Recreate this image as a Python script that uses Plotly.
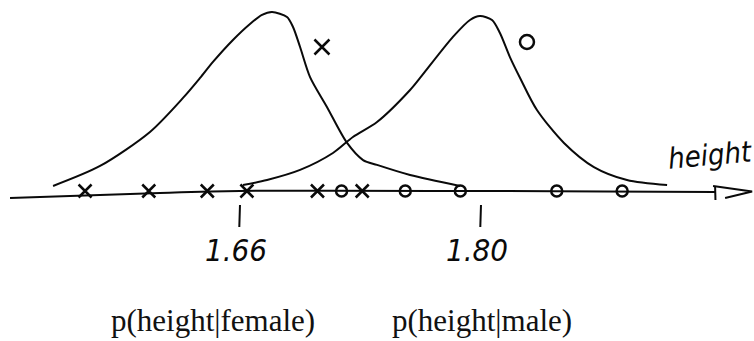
import plotly.graph_objects as go

# Sketch of two class-conditional height densities with observed samples.

# Density curve of height for females (height in m, relative density)
female_curve_h = [1.5514, 1.5787, 1.6077, 1.6269, 1.6368, 1.6443, 1.6559, 1.6658,
                  1.6728, 1.6786, 1.6873, 1.6908, 1.6949, 1.7007, 1.7105, 1.7222,
                  1.7315, 1.7396, 1.7588, 1.7878]
female_curve_p = [0.028, 0.139, 0.328, 0.517, 0.628, 0.717, 0.839, 0.928,
                  0.978, 0.994, 0.967, 0.911, 0.800, 0.633, 0.467, 0.267,
                  0.172, 0.145, 0.089, 0.028]

# Density curve of height for males
male_curve_h = [1.6617, 1.6757, 1.6949, 1.7140, 1.7256, 1.7396, 1.7588, 1.7646,
                1.7837, 1.7936, 1.7994, 1.8064, 1.8110, 1.8168, 1.8227, 1.8325,
                1.8482, 1.8656, 1.8848, 1.9081]
male_curve_p = [0.033, 0.061, 0.117, 0.211, 0.300, 0.383, 0.561, 0.628,
                0.856, 0.950, 0.972, 0.950, 0.878, 0.744, 0.628, 0.450,
                0.267, 0.133, 0.061, 0.033]

# Observed samples on the height axis
female_heights = [1.570, 1.607, 1.641, 1.664, 1.705, 1.731]
male_heights = [1.719, 1.756, 1.788, 1.844, 1.882]

# Tick marks on the height axis
tick_values = [1.66, 1.80]
tick_labels = ["1.66", "1.80"]

# Class names written under each curve
class_labels = ["p(height|female)", "p(height|male)"]
class_label_x = [1.6443, 1.8006]

X_RANGE = [1.52058, 1.95859]
Y_RANGE = [-0.8333, 1.0611]

INK = "#0a0a0a"
HAND = "DejaVu Sans Condensed, DejaVu Sans, sans-serif"

fig = go.Figure()

# density curves
for hx, py in ((female_curve_h, female_curve_p), (male_curve_h, male_curve_p)):
    fig.add_trace(go.Scatter(x=hx, y=py, mode="lines",
                             line=dict(color=INK, width=2, shape="spline", smoothing=0.8),
                             hoverinfo="skip"))

# height axis drawn by hand: slight droop at the left end
axis_h = [1.5264, 1.6135, 1.6600, 1.9360]
axis_p = [-0.039, -0.011, 0.0, -0.006]
fig.add_trace(go.Scatter(x=axis_h, y=axis_p, mode="lines",
                         line=dict(color=INK, width=2, shape="spline"),
                         hoverinfo="skip"))
# open arrowhead at the right end of the axis
fig.add_trace(go.Scatter(x=[1.9348, 1.9575, 1.9418], y=[0.028, -0.003, -0.039],
                         mode="lines", line=dict(color=INK, width=2),
                         hoverinfo="skip"))
# small stroke where the label's descender meets the axis
fig.add_trace(go.Scatter(x=[1.9360, 1.9362], y=[0.022, -0.050], mode="lines",
                         line=dict(color=INK, width=2), hoverinfo="skip"))

# samples
fig.add_trace(go.Scatter(x=female_heights, y=[0] * len(female_heights), mode="markers",
                         marker=dict(symbol="x-thin-open", size=13, color=INK,
                                     line=dict(color=INK, width=2.5)),
                         hoverinfo="skip"))
fig.add_trace(go.Scatter(x=male_heights, y=[0] * len(male_heights), mode="markers",
                         marker=dict(symbol="circle-open", size=11, color=INK,
                                     line=dict(color=INK, width=2.5)),
                         hoverinfo="skip"))

# class symbols beside each curve
fig.add_trace(go.Scatter(x=[1.7076], y=[0.800], mode="markers",
                         marker=dict(symbol="x-thin-open", size=15, color=INK,
                                     line=dict(color=INK, width=2.5)),
                         hoverinfo="skip"))
fig.add_trace(go.Scatter(x=[1.8267], y=[0.828], mode="markers",
                         marker=dict(symbol="circle-open", size=14, color=INK,
                                     line=dict(color=INK, width=2.5)),
                         hoverinfo="skip"))

shapes = []
annotations = []
for v, lab in zip(tick_values, tick_labels):
    shapes.append(dict(type="line", xref="x", yref="y", x0=v, x1=v - 0.0004,
                       y0=-0.078, y1=-0.200, line=dict(color=INK, width=2)))
    annotations.append(dict(x=v - 0.0022, y=-0.328, xref="x", yref="y", text=lab,
                            showarrow=False, xanchor="center", yanchor="middle",
                            font=dict(family=HAND, size=31, color=INK, style="italic")))

for x, lab in zip(class_label_x, class_labels):
    annotations.append(dict(x=x, y=-0.717, xref="x", yref="y", text=lab,
                            showarrow=False, xanchor="center", yanchor="middle",
                            font=dict(family="Liberation Serif, Times New Roman, serif",
                                      size=31, color="#111111")))

# axis label
annotations.append(dict(x=1.9336, y=0.200, xref="x", yref="y", text="height",
                        showarrow=False, xanchor="center", yanchor="middle",
                        textangle=-5,
                        font=dict(family=HAND, size=29, color=INK, style="italic")))

fig.update_layout(
    width=754, height=341,
    margin=dict(l=0, r=0, t=0, b=0),
    paper_bgcolor="white", plot_bgcolor="white",
    showlegend=False,
    xaxis=dict(range=X_RANGE, visible=False, fixedrange=True),
    yaxis=dict(range=Y_RANGE, visible=False, fixedrange=True),
    shapes=shapes,
    annotations=annotations,
)

fig.write_html("out.html")
